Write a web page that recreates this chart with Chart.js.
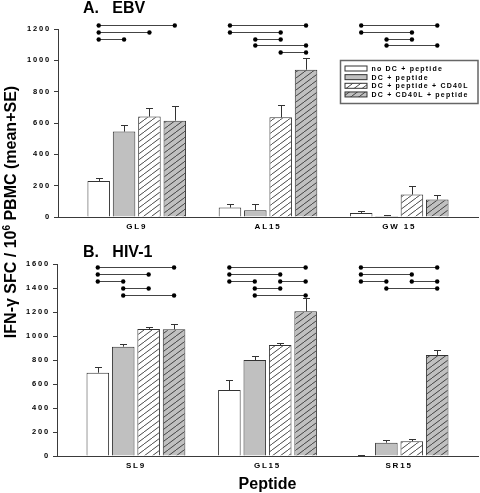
<!DOCTYPE html>
<html><head><meta charset="utf-8">
<script src="https://cdn.jsdelivr.net/npm/chart.js@4.4.0/dist/chart.umd.min.js"></script>
<style>
html,body{margin:0;padding:0;background:#fff;}
#wrap{position:relative;width:480px;height:493px;overflow:hidden;background:#fff;}
canvas{position:absolute;left:0;}
#ytitle{position:absolute;left:-118px;top:202px;width:260px;height:20px;line-height:20px;text-align:center;
  font:bold 16px "Liberation Sans",Arial,sans-serif;color:#000;transform:rotate(-90deg);transform-origin:50% 50%;white-space:nowrap;}
#ytitle sup{font-size:10px;line-height:0;}
</style></head>
<body><div id="wrap">
<canvas id="cA" width="480" height="240" style="top:0"></canvas>
<canvas id="cB" width="480" height="253" style="top:240px"></canvas>
<div id="ytitle">IFN-γ SFC / 10<sup>6</sup> PBMC (mean+SE)</div>
</div>
<script>
// ---------- data ----------
const seriesLabels = ['no DC + peptide', 'DC + peptide', 'DC + peptide + CD40L', 'DC + CD40L + peptide'];

const ebvPeptides = ['GL9', 'AL15', 'GW 15'];
const ebvNoDC      = [230, 60, 26];
const ebvDC        = [545, 43, 6];
const ebvDCpepCD40 = [641, 636, 143];
const ebvDCCD40pep = [615, 940, 111];
const ebvSeNoDC      = [22, 25, 15];
const ebvSeDC        = [40, 42, 5];
const ebvSeDCpepCD40 = [53, 77, 58];
const ebvSeDCCD40pep = [96, 76, 28];
// significance brackets: [peptide index, series from, series to, row]
const ebvBrackets = [
  [0,0,3,0],[0,0,2,1],[0,0,1,2],
  [1,0,3,0],[1,0,2,1],[1,1,2,2],[1,1,3,3],[1,2,3,4],
  [2,0,3,0],[2,0,2,1],[2,1,2,2],[2,1,3,3]
];

const hivPeptides = ['SL9', 'GL15', 'SR15'];
const hivNoDC      = [694, 550, 5];
const hivDC        = [911, 800, 111];
const hivDCpepCD40 = [1058, 925, 122];
const hivDCCD40pep = [1056, 1206, 842];
const hivSeNoDC      = [50, 83, 6];
const hivSeDC        = [20, 31, 25];
const hivSeDCpepCD40 = [14, 14, 17];
const hivSeDCCD40pep = [41, 108, 44];
const hivBrackets = [
  [0,0,3,0],[0,0,2,1],[0,0,1,2],[0,1,2,3],[0,1,3,4],
  [1,0,3,0],[1,0,2,1],[1,0,1,2],[1,2,3,2],[1,1,2,3],[1,1,3,4],
  [2,0,3,0],[2,0,2,1],[2,0,1,2],[2,2,3,2],[2,1,3,3]
];

// ---------- styles ----------
const FONT = '"Liberation Sans", Arial, sans-serif';
const AXIS = '#3a3a3a';
const GRAY = '#c0c0c0';
function hatch(bg) {
  const w = 8, h = 6;
  const c = document.createElement('canvas'); c.width = w; c.height = h;
  const g = c.getContext('2d');
  g.fillStyle = bg; g.fillRect(0, 0, w, h);
  g.strokeStyle = '#333'; g.lineWidth = 0.9;
  for (let k = -1; k <= 1; k++) { g.beginPath(); g.moveTo(k*w, h); g.lineTo((k+1)*w, 0); g.stroke(); }
  return g.createPattern(c, 'repeat');
}
const fills = ['#ffffff', GRAY, hatch('#ffffff'), hatch(GRAY)];

function makeChart(canvas, o) {
  const vals = o.values, errs = o.errors;
  const datasets = vals.map((arr, i) => ({
    label: seriesLabels[i],
    data: arr.map((v, j) => ({ x: j, y: v })),
    backgroundColor: fills[i],
    borderColor: '#333',
    borderWidth: 1,
    borderSkipped: 'bottom',
    categoryPercentage: 0.773,
    barPercentage: 0.888
  }));
  const annot = {
    id: 'annot',
    beforeDraw(chart) { chart.ctx.letterSpacing = '1.8px'; },
    beforeDatasetsDraw(chart) { chart.ctx.letterSpacing = '0px'; },
    afterDatasetsDraw(chart) {
      const ctx = chart.ctx, ys = chart.scales.y;
      ctx.save();
      ctx.strokeStyle = '#333'; ctx.lineWidth = 1;
      chart.data.datasets.forEach((ds, i) => {
        chart.getDatasetMeta(i).data.forEach((bar, j) => {
          const top = ys.getPixelForValue(ds.data[j].y + errs[i][j]);
          const x = Math.round(bar.x) + 0.5, t = Math.round(top) + 0.5;
          ctx.beginPath();
          ctx.moveTo(x, bar.y); ctx.lineTo(x, t);
          ctx.moveTo(x - 3.5, t); ctx.lineTo(x + 3.5, t);
          ctx.stroke();
        });
      });
      // brackets
      ctx.strokeStyle = '#444'; ctx.fillStyle = '#000'; ctx.lineWidth = 1;
      o.brackets.forEach(([c, a, b, r]) => {
        const xa = chart.getDatasetMeta(a).data[c].x, xb = chart.getDatasetMeta(b).data[c].x;
        const y = Math.round(chart.chartArea.top + o.rowTop + r * o.rowStep) + 0.5;
        ctx.beginPath(); ctx.moveTo(xa, y); ctx.lineTo(xb, y); ctx.stroke();
        [xa, xb].forEach(x => { ctx.beginPath(); ctx.arc(x, y, 2.2, 0, Math.PI * 2); ctx.fill(); });
      });
      ctx.restore();
    },
    afterDraw(chart) {
      const ctx = chart.ctx;
      ctx.save();
      ctx.letterSpacing = '0px';
      ctx.fillStyle = '#000';
      ctx.font = 'bold 16px ' + FONT;
      ctx.textAlign = 'left'; ctx.textBaseline = 'alphabetic';
      ctx.fillText(o.title, 83, o.titleY);
      if (o.xTitle) {
        ctx.textAlign = 'center';
        ctx.fillText(o.xTitle, (chart.chartArea.left + chart.chartArea.right) / 2, o.xTitleY);
      }
      if (o.legend) {
        const L = o.legend;
        ctx.strokeStyle = '#666'; ctx.lineWidth = 1.5;
        ctx.strokeRect(L.x, L.y, L.w, L.h);
        ctx.font = 'bold 7px ' + FONT;
        ctx.letterSpacing = '1.2px';
        ctx.textAlign = 'left'; ctx.textBaseline = 'middle';
        chart.data.datasets.forEach((ds, i) => {
          const cy = L.y + 8 + i * 8.65;
          ctx.fillStyle = ds.backgroundColor;
          ctx.fillRect(L.x + 4.5, cy - 2.5, 22, 5);
          ctx.strokeStyle = '#333'; ctx.lineWidth = 1;
          ctx.strokeRect(L.x + 4.5, cy - 2.5, 22, 5);
          ctx.fillStyle = '#000';
          ctx.fillText(ds.label, L.x + 31, cy + 0.5);
        });
      }
      ctx.restore();
    }
  };
  return new Chart(canvas, {
    type: 'bar',
    data: { datasets },
    plugins: [annot],
    options: {
      responsive: false, animation: false, devicePixelRatio: 1,
      layout: { padding: { left: 0, right: 2, top: o.padTop, bottom: 0 } },
      plugins: { legend: { display: false }, tooltip: { enabled: false }, title: { display: false } },
      scales: {
        x: {
          type: 'linear', min: -0.6, max: 2.6, offset: false,
          grid: { display: false, drawTicks: false, offset: false },
          border: { display: true, color: AXIS, width: 1 },
          afterBuildTicks: s => { s.ticks = o.cats.map((c, i) => ({ value: i })); },
          afterFit: s => { s.height = o.xH; },
          ticks: { autoSkip: false, maxRotation: 0, padding: 5, color: '#000',
            font: { family: FONT, size: 8, weight: 'bold' },
            callback: v => o.cats[v] ?? '' }
        },
        y: {
          min: 0, max: o.yMax,
          grid: { drawOnChartArea: false, drawTicks: true, tickLength: 4, color: AXIS },
          border: { display: true, color: AXIS, width: 1 },
          afterFit: s => { s.width = o.yW; },
          ticks: { stepSize: 200, padding: 3, color: '#000',
            font: { family: FONT, size: 7.5, weight: 'bold' },
            callback: v => String(v) }
        }
      }
    }
  });
}

makeChart(document.getElementById('cA'), {
  cats: ebvPeptides,
  values: [ebvNoDC, ebvDC, ebvDCpepCD40, ebvDCCD40pep],
  errors: [ebvSeNoDC, ebvSeDC, ebvSeDCpepCD40, ebvSeDCCD40pep],
  brackets: ebvBrackets, rowTop: -3.6, rowStep: 6.65,
  yMax: 1200, padTop: 29, xH: 23, yW: 58,
  title: 'A.   EBV', titleY: 13.3,
  legend: { x: 340.5, y: 60.5, w: 137.5, h: 43 }
});
makeChart(document.getElementById('cB'), {
  cats: hivPeptides,
  values: [hivNoDC, hivDC, hivDCpepCD40, hivDCCD40pep],
  errors: [hivSeNoDC, hivSeDC, hivSeDCpepCD40, hivSeDCCD40pep],
  brackets: hivBrackets, rowTop: 2.7, rowStep: 7.1,
  yMax: 1600, padTop: 24, xH: 37, yW: 57,
  title: 'B.   HIV-1', titleY: 16.7,
  xTitle: 'Peptide', xTitleY: 248.8
});
</script>
</body></html>
